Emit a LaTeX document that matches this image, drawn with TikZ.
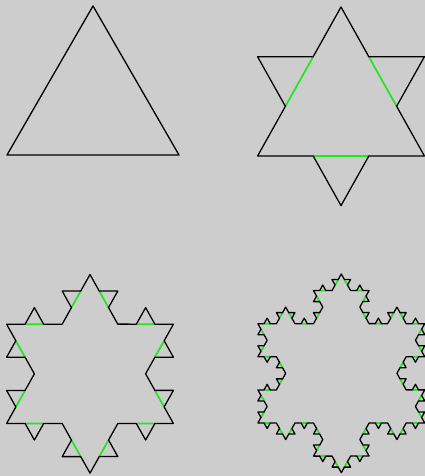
\documentclass[tikz,border=0pt]{standalone}
\usepackage{tikz}
\usetikzlibrary{decorations.fractals}

\definecolor{paneltone}{RGB}{205,205,205}
\definecolor{cutgreen}{RGB}{34,230,34}

\begin{document}
\begin{tikzpicture}[x=1pt, y=1pt, decoration=Koch snowflake,
  edge/.style={draw=black, line width=1.3pt, line join=round, line cap=round},
  cut/.style n args={2}{draw=cutgreen, line width=1.8pt,
                        dash pattern=on #1pt off #2pt, dash phase=#2pt}]
  \useasboundingbox[fill=paneltone] (0,0) rectangle (425,476);

  % step 0
  \begin{scope}[shift={(93,321)}]
    \path[edge] (0,149) -- (86,0) -- (-86,0) -- cycle;
  \end{scope}

  % step 1
  \begin{scope}[transform canvas={shift={(341,320)}, xscale=0.97}]
    \path[cut={57.35}{114.69}] (0,149) -- (86,0) -- (-86,0) -- (0,149);
    \path[edge] decorate{(0,149) -- (86,0) -- (-86,0) -- (0,149)};
  \end{scope}

  % step 2
  \begin{scope}[transform canvas={shift={(90,52.5)}, xscale=0.97}]
    \path[cut={19.117}{38.233}] decorate{(0,149) -- (86,0) -- (-86,0) -- (0,149)};
    \path[edge] decorate{decorate{(0,149) -- (86,0) -- (-86,0) -- (0,149)}};
  \end{scope}

  % step 3
  \begin{scope}[transform canvas={shift={(341.3,53)}, xscale=0.97}]
    \path[cut={6.372}{12.744}] decorate{decorate{(0,149) -- (86,0) -- (-86,0) -- (0,149)}};
    \path[edge] decorate{decorate{decorate{(0,149) -- (86,0) -- (-86,0) -- (0,149)}}};
  \end{scope}
\end{tikzpicture}
\end{document}
